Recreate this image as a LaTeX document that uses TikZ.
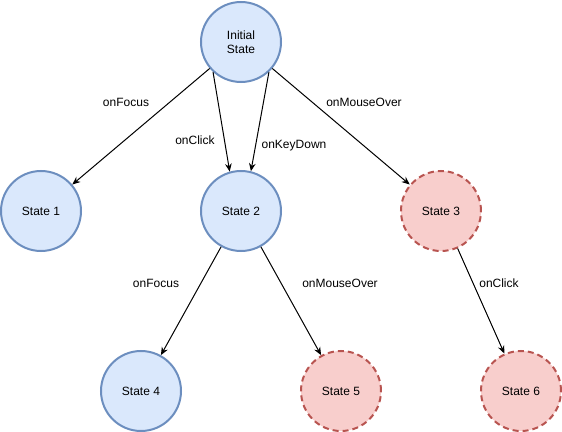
\documentclass[tikz,border=0pt]{standalone}
\usepackage{fontspec}
\setmainfont{Liberation Sans}
\usetikzlibrary{arrows.meta}
\definecolor{smblue}     {HTML}{DAE8FC}
\definecolor{smblueline} {HTML}{6C8EBF}
\definecolor{smred}      {HTML}{F8CECC}
\definecolor{smredline}  {HTML}{B85450}
\tikzset{
  smstate/.style={circle, draw=smblueline, fill=smblue, line width=1.5pt,
                  minimum size=60pt, inner sep=0pt, align=center,
                  font=\fontsize{9pt}{10.5pt}\selectfont},
  smghost/.style={smstate, draw=smredline, fill=smred,
                  dash pattern=on 4.5pt off 3pt},
  smedge/.style={-{Stealth[length=6pt,width=5pt,inset=2pt]}, draw=black,
                 line width=0.75pt},
  smlabel/.style={font=\fontsize{9pt}{10.5pt}\selectfont, inner sep=0pt},
}

\begin{document}
\begin{tikzpicture}[x=0.75pt,y=-0.75pt]
  \useasboundingbox (0,0) rectangle (562,432);
  % states
  \node[smstate] (init) at (241,42)  {Initial\\State};
  \node[smstate] (s1)   at (41,211)  {State 1};
  \node[smstate] (s2)   at (241,211) {State 2};
  \node[smghost] (s3)   at (441,211) {State 3};
  \node[smstate] (s4)   at (141,391) {State 4};
  \node[smghost] (s5)   at (341,391) {State 5};
  \node[smghost] (s6)   at (521,391) {State 6};
  % transitions
  \draw[smedge] (init) -- (s1);
  \draw[smedge] (init.227) -- (s2.106);
  \draw[smedge] (init.313) -- (s2.76);
  \draw[smedge] (init) -- (s3);
  \draw[smedge] (s2) -- (s4);
  \draw[smedge] (s2) -- (s5);
  \draw[smedge] (s3) -- (s6);
  % event labels
  \node[smlabel] (lfocus)  at (126,102) {onFocus};
  \node[smlabel] (lclick)  at (195,140) {onClick};
  \node[smlabel] (lkey)    at (294,146) {onKeyDown};
  \node[smlabel] (lover)   at (364,102) {onMouseOver};
  \node[smlabel] (lfocusb) at (156,283) {onFocus};
  \node[smlabel] (loverb)  at (340,283) {onMouseOver};
  \node[smlabel] (lclickb) at (499,283) {onClick};
\end{tikzpicture}
\end{document}
